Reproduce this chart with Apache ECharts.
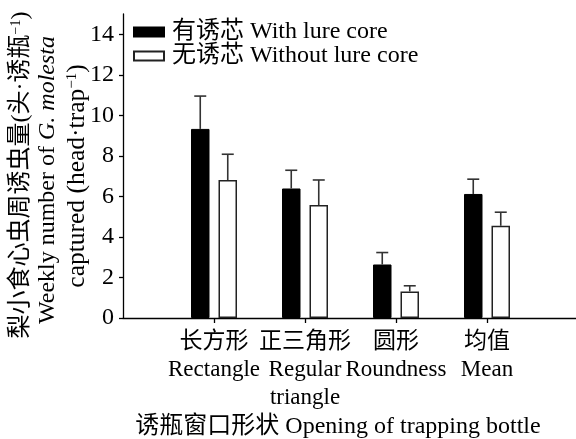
<!DOCTYPE html>
<html>
<head>
<meta charset="utf-8">
<script src="https://cdn.jsdelivr.net/npm/echarts@6/dist/echarts.min.js"></script>
<style>
html,body{margin:0;padding:0;background:#fff;}
#chart{width:576px;height:439px;}
</style>
</head>
<body>
<div id="chart"></div>
<script>
// ---- data ----
const categories = ['长方形\nRectangle', '正三角形\nRegular\ntriangle', '圆形\nRoundness', '均值\nMean'];
const seriesNames = ['有诱芯 With lure core', '无诱芯 Without lure core'];
const withLure = [9.33, 6.39, 2.64, 6.12];
const withLureErr = [1.62, 0.90, 0.59, 0.73];
const withoutLure = [6.81, 5.57, 1.31, 4.55];
const withoutLureErr = [1.27, 1.24, 0.28, 0.67];
const yTicks = [0, 2, 4, 6, 8, 10, 12, 14];

const FONT = "'Liberation Serif', 'Noto Sans CJK SC', serif";
const BAR_W = 18.5;
const GAP = 9;

const axisCats = [''].concat(categories, ['']);
function barData(vals){ return [null].concat(vals, [null]); }
function errData(vals, errs){ return vals.map((v,i)=>[i+1, v, v+errs[i]]); }

function errRender(offset){
  return function(params, api){
    const c = api.value(0);
    const p0 = api.coord([c, api.value(1)]);
    const p1 = api.coord([c, api.value(2)]);
    const x = p0[0] + offset;
    const st = {stroke:'#333', lineWidth:1.6};
    return {type:'group', children:[
      {type:'line', shape:{x1:x, y1:p0[1], x2:x, y2:p1[1]}, style:st},
      {type:'line', shape:{x1:x-6, y1:p1[1], x2:x+6, y2:p1[1]}, style:st}
    ]};
  };
}
const off = (BAR_W + GAP)/2;

const chart = echarts.init(document.getElementById('chart'));
chart.setOption({
  animation:false,
  backgroundColor:'#fff',
  grid:{left:123, right:-2, top:14, bottom:121, outerBoundsMode:'none', containLabel:false},
  legend:{
    orient:'vertical', left:133, top:20, padding:0, itemGap:0,
    itemWidth:30, itemHeight:9, icon:'rect',
    data: seriesNames,
    textStyle:{fontFamily:FONT, fontSize:24, color:'#000', lineHeight:23, padding:[0,0,0,3]}
  },
  xAxis:{
    type:'category', data:axisCats, boundaryGap:false,
    axisLine:{lineStyle:{color:'#000', width:1.3}},
    axisTick:{length:5, lineStyle:{color:'#000', width:1.3}, interval:(i)=> i>=1 && i<=4},
    axisLabel:{interval:0, hideOverlap:false, showMinLabel:true, showMaxLabel:true,
      margin:10, fontFamily:FONT, fontSize:23, color:'#000', lineHeight:28, align:'center'},
    splitLine:{show:false}
  },
  yAxis:{
    type:'value', min:0, max:15, interval:2,
    axisLine:{show:true, lineStyle:{color:'#000', width:1.3}},
    axisTick:{show:true, length:4, customValues:yTicks, lineStyle:{color:'#000', width:1.3}},
    axisLabel:{customValues:yTicks, margin:9, fontFamily:FONT, fontSize:24, color:'#000'},
    splitLine:{show:false}
  },
  graphic:[
    {type:'text', x:21, y:175, rotation:Math.PI/2, style:{
      text:'{a|梨小食心虫周诱虫量(头·诱瓶}{s|−1}{a|)}',
      align:'center', verticalAlign:'middle', textAlign:'center', textVerticalAlign:'middle',
      fill:'#000', font:'24px '+FONT,
      rich:{a:{fontFamily:FONT, fontSize:24, lineHeight:24, fill:'#000'}, s:{fontFamily:FONT, fontSize:14, verticalAlign:'top', lineHeight:24, fill:'#000'}}
    }},
    {type:'text', x:48, y:180, rotation:Math.PI/2, style:{
      text:'{a|Weekly number of }{i|G. molesta}',
      align:'center', verticalAlign:'middle', textAlign:'center', textVerticalAlign:'middle',
      fill:'#000', font:'24px '+FONT,
      rich:{a:{fontFamily:FONT, fontSize:24, lineHeight:24, fill:'#000'}, i:{fontFamily:FONT, fontSize:24, fontStyle:'italic', lineHeight:24, fill:'#000'}}
    }},
    {type:'text', x:77, y:176, rotation:Math.PI/2, style:{
      text:'{a|captured (head·trap}{s|−1}{a|)}',
      align:'center', verticalAlign:'middle', textAlign:'center', textVerticalAlign:'middle',
      fill:'#000', font:'25px '+FONT,
      rich:{a:{fontFamily:FONT, fontSize:25.5, lineHeight:25, fill:'#000'}, s:{fontFamily:FONT, fontSize:15, verticalAlign:'top', lineHeight:25, fill:'#000'}}
    }},
    {type:'text', x:338, y:427, style:{
      text:'诱瓶窗口形状 Opening of trapping bottle',
      align:'center', verticalAlign:'middle', textAlign:'center', textVerticalAlign:'middle',
      fill:'#000', font:'24px '+FONT
    }}
  ],
  series:[
    {name:seriesNames[0], type:'bar', data:barData(withLure), barWidth:BAR_W, barGap:(GAP/BAR_W*100)+'%',
     itemStyle:{color:'#000', borderColor:'#000', borderWidth:1}},
    {name:seriesNames[1], type:'bar', data:barData(withoutLure), barWidth:BAR_W,
     itemStyle:{color:'#fff', borderColor:'#222', borderWidth:1.5}},
    {type:'custom', data:errData(withLure, withLureErr), renderItem:errRender(-off), z:3},
    {type:'custom', data:errData(withoutLure, withoutLureErr), renderItem:errRender(off), z:3}
  ]
});
</script>
</body>
</html>
